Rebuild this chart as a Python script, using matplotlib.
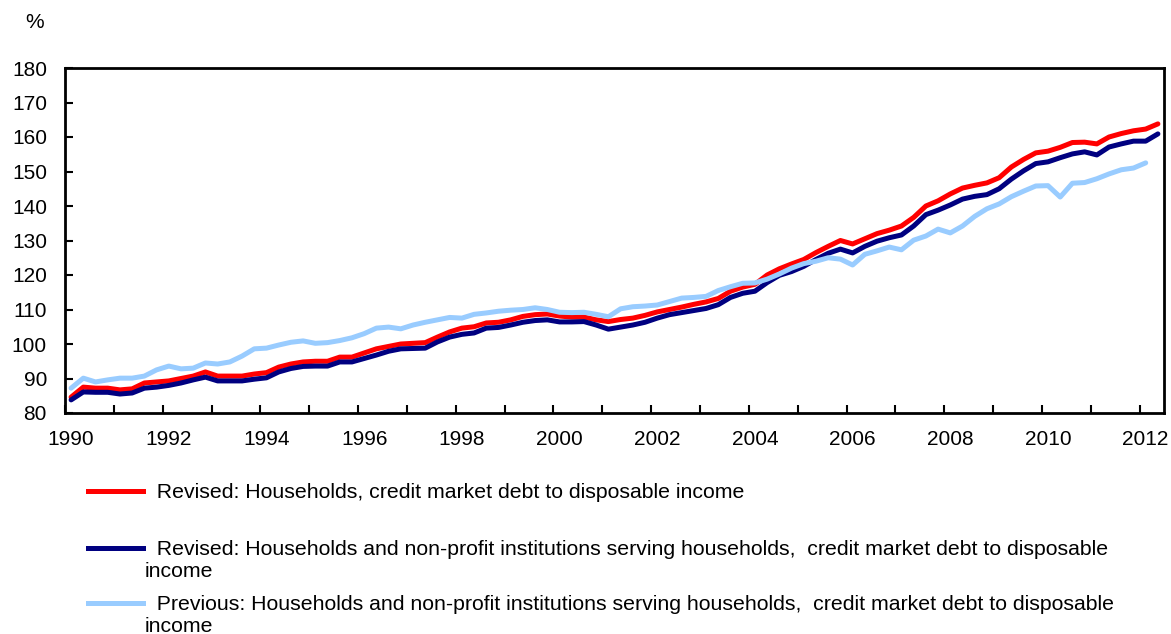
import matplotlib
matplotlib.use("Agg")
import matplotlib.pyplot as plt
from matplotlib.lines import Line2D
import numpy as np

plt.rcParams['font.family'] = ['Liberation Sans', 'DejaVu Sans']

# quarterly, 1990Q1 .. 2012Q2
revised_hh = [
    84.6, 87.5, 87.2, 87.2, 86.7, 87.0, 88.7, 89.0, 89.3, 90.0,
    90.7, 91.9, 90.7, 90.7, 90.7, 91.3, 91.7, 93.3, 94.2, 94.8,
    95.0, 95.0, 96.2, 96.2, 97.4, 98.6, 99.3, 100.0, 100.2, 100.4,
    102.0, 103.5, 104.6, 105.0, 106.1, 106.3, 107.0, 108.0, 108.5, 108.7,
    108.1, 107.8, 107.8, 107.0, 106.5, 107.1, 107.5, 108.3, 109.3, 110.0,
    110.7, 111.5, 112.2, 113.2, 115.3, 116.5, 117.3, 120.0, 121.8, 123.2,
    124.5, 126.5, 128.3, 130.0, 129.0, 130.5, 132.0, 133.0, 134.2, 136.7,
    140.0, 141.5, 143.5, 145.2, 146.0, 146.7, 148.2, 151.3, 153.5, 155.4,
    155.9, 157.0, 158.4, 158.5, 158.0, 160.0, 161.0, 161.8, 162.3, 163.8,
]
revised_hh_npish = [
    83.8, 86.1, 86.0, 86.0, 85.5, 85.8, 87.2, 87.5, 88.0, 88.7,
    89.6, 90.4, 89.3, 89.3, 89.3, 89.8, 90.2, 91.9, 92.9, 93.5,
    93.6, 93.6, 94.8, 94.8, 95.8, 96.8, 97.9, 98.6, 98.7, 98.8,
    100.6, 102.0, 102.8, 103.2, 104.6, 104.8, 105.5, 106.3, 106.8, 107.0,
    106.4, 106.4, 106.5, 105.5, 104.3, 104.9, 105.5, 106.3, 107.5, 108.5,
    109.1, 109.7, 110.3, 111.4, 113.5, 114.7, 115.3, 117.8, 119.9, 121.0,
    122.5, 124.5, 126.3, 127.5, 126.4, 128.3, 129.8, 130.8, 131.6, 134.2,
    137.5, 138.8, 140.3, 142.0, 142.8, 143.3, 145.0, 147.8, 150.2, 152.3,
    152.8, 154.0, 155.1, 155.7, 154.8, 157.1, 158.0, 158.8, 158.8, 160.9,
]
# previous vintage ends one quarter earlier (2012Q1)
previous_hh_npish = [
    87.2, 90.1, 89.0, 89.6, 90.1, 90.1, 90.7, 92.5, 93.6, 92.8,
    93.0, 94.5, 94.2, 94.8, 96.5, 98.6, 98.8, 99.7, 100.5, 100.9,
    100.2, 100.4, 101.0, 101.8, 103.0, 104.6, 104.9, 104.4, 105.5, 106.3,
    107.0, 107.7, 107.5, 108.6, 109.0, 109.5, 109.8, 110.0, 110.5, 110.0,
    109.2, 109.1, 109.2, 108.6, 107.9, 110.2, 110.8, 111.0, 111.3, 112.3,
    113.3, 113.5, 113.8, 115.5, 116.6, 117.6, 117.7, 118.8, 120.3, 122.0,
    123.3, 124.0, 125.0, 124.6, 122.9, 126.0, 127.0, 128.1, 127.3, 130.1,
    131.3, 133.3, 132.2, 134.2, 137.0, 139.2, 140.6, 142.7, 144.3, 145.8,
    145.9, 142.6, 146.6, 146.8, 147.9, 149.3, 150.5, 151.0, 152.5,
]

years = list(range(1990, 2013))
labels = [
    "  Revised: Households, credit market debt to disposable income",
    "  Revised: Households and non-profit institutions serving households,  credit market debt to disposable\nincome",
    "  Previous: Households and non-profit institutions serving households,  credit market debt to disposable\nincome",
]
colors = ['#ff0000', '#000080', '#99ccff']
FS = 15
LEG_FS = 15.3

fig = plt.figure(figsize=(11.71, 6.34), dpi=100)
ax = fig.add_axes([65 / 1171, 1 - 413 / 634, 1099 / 1171, 345 / 634])

series = [revised_hh, revised_hh_npish, previous_hh_npish]
for vals, c in zip(series, colors):
    x = np.arange(len(vals)) + 0.5
    ax.plot(x, vals, color=c, lw=3.6, solid_joinstyle='round', solid_capstyle='round')

n_q = 4 * (len(years) - 1) + 2
ax.set_xlim(0, n_q)
ax.set_ylim(80, 180)
ax.set_yticks(range(80, 181, 10))

# year boundaries as ticks, labels centred on the first quarter
ax.set_xticks([4 * i for i in range(len(years))])
ax.set_xticklabels([])
ax.set_xticks([4 * i + 0.5 for i in range(0, len(years), 2)], minor=True)
ax.set_xticklabels([str(y) for y in years[::2]], minor=True)

ax.tick_params(axis='both', which='major', direction='in', length=6, width=1.5,
               labelsize=FS, colors='black')
ax.tick_params(axis='x', which='minor', length=0, labelsize=FS, pad=12)
ax.tick_params(axis='y', pad=13)
for s in ax.spines.values():
    s.set_linewidth(2)

fig.text(35 / 1171, 1 - 22 / 634, '%', fontsize=FS, ha='center', va='center')

# legend below the chart
rows_y = [491, 548, 603]
for lab, c, y in zip(labels, colors, rows_y):
    fig.add_artist(Line2D([88 / 1171, 143 / 1171], [1 - y / 634, 1 - y / 634],
                          color=c, lw=3.6, transform=fig.transFigure))
    fig.text(145 / 1171, 1 - (y - 8) / 634, lab, fontsize=LEG_FS, ha='left', va='top',
             linespacing=1.2)

fig.savefig('out.png', dpi=100)
